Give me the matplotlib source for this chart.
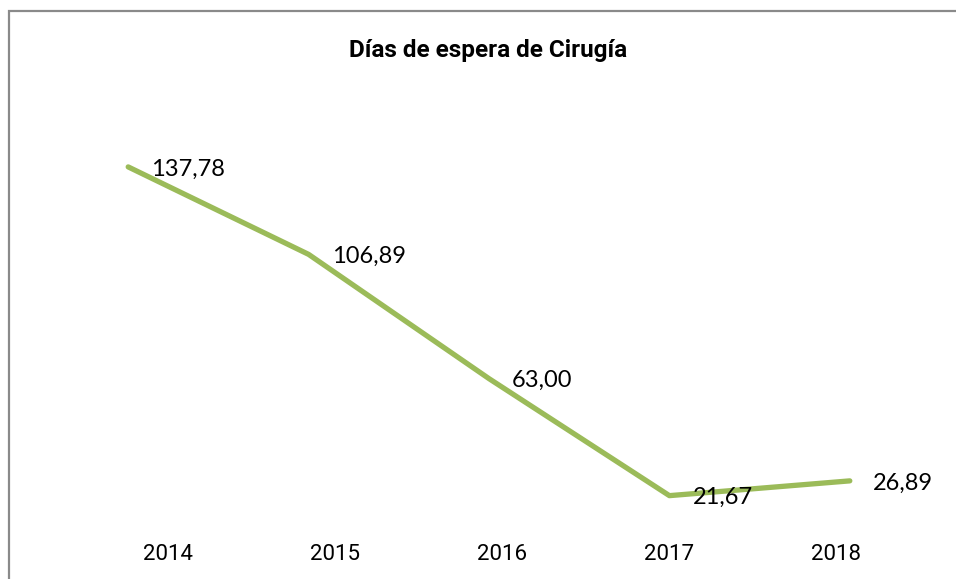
import matplotlib
matplotlib.use("Agg")
import matplotlib.pyplot as plt
from matplotlib.patches import Rectangle

years = ["2014", "2015", "2016", "2017", "2018"]
values = [137.78, 106.89, 63.00, 21.67, 26.89]
title = "Días de espera de Cirugía"

W, H = 956, 579
fig = plt.figure(figsize=(W / 100, H / 100), dpi=100)
fig.patch.set_facecolor("white")

def fx(px):
    return px / W

def fy(py):
    return 1 - py / H

# border
fig.patches.append(Rectangle((fx(9), fy(600)), fx(1000), fy(11) - fy(600),
                             transform=fig.transFigure, fill=False,
                             edgecolor="#8a8a8a", linewidth=1.6))

narrow = ["Roboto", "DejaVu Sans"]
label_font = ["Lato", "DejaVu Sans"]

# main plot axes
ax = fig.add_axes([fx(38), fy(557), fx(940) - fx(38), fy(104) - fy(557)])
ax.set_xlim(-0.5, len(years) - 0.5)
ax.set_ylim(0, 160)
x = list(range(len(years)))
ax.plot(x, values, color="#9BBB59", linewidth=3.8, solid_capstyle="round",
        solid_joinstyle="round")
for xi, v in zip(x, values):
    ax.annotate(f"{v:.2f}".replace(".", ","), (xi, v), xytext=(23, -2),
                textcoords="offset pixels", ha="left", va="center",
                fontsize=17, family=label_font, color="black")
ax.axis("off")

# category label axes
ax2 = fig.add_axes([fx(84), fy(544), fx(920) - fx(84), 0.001])
ax2.set_xlim(-0.5, len(years) - 0.5)
ax2.set_xticks(x)
ax2.set_xticklabels(years, family=narrow, fontsize=16)
ax2.tick_params(axis="x", length=0, pad=0)
ax2.set_yticks([])
for s in ax2.spines.values():
    s.set_visible(False)
ax2.patch.set_alpha(0)

fig.text(fx(488), fy(51), title, ha="center", va="center", fontsize=17.5,
         fontweight="bold", family=narrow)

fig.savefig("out.png", dpi=100, facecolor="white")
